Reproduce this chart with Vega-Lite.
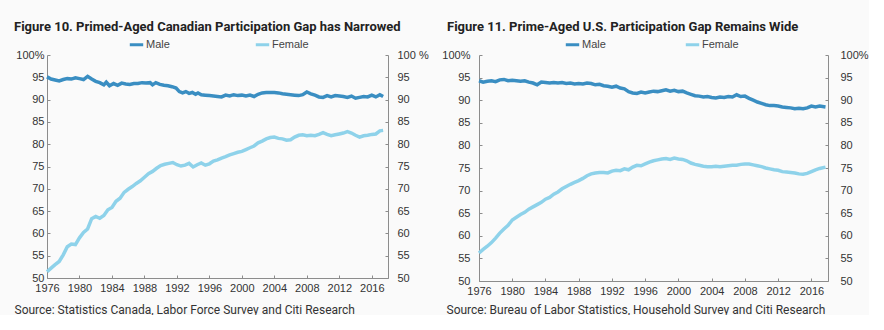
{
 "$schema": "https://vega.github.io/schema/vega-lite/v6.json",
 "background": "#fafafa",
 "padding": {"left": 14, "top": 21, "right": 0, "bottom": 0},
 "autosize": {"type": "pad"},
 "bounds": "flush",
 "spacing": 91,
 "config": {
  "view": {"stroke": null},
  "font": "Liberation Sans",
  "axis": {"grid": false, "domainColor": "#8c8c8c", "tickColor": "#8c8c8c", "labelColor": "#333333", "labelFontSize": 11, "tickSize": -3, "labelFont": "Liberation Sans", "titleFont": "Roboto", "titleFontWeight": "normal", "titleFontSize": 12, "titleColor": "#333333", "labelOverlap": false, "labelFlush": false},
  "legend": {"labelFont": "Liberation Sans", "labelFontSize": 11, "labelColor": "#444444", "padding": 0}
 },
 "datasets": {
  "canada": [
   {"t":1976.0,"s":"Male","v":95.1},{"t":1976.5,"s":"Male","v":94.6},{"t":1977.0,"s":"Male","v":94.4},{"t":1977.5,"s":"Male","v":94.2},{"t":1978.0,"s":"Male","v":94.5},{"t":1978.5,"s":"Male","v":94.7},{"t":1979.0,"s":"Male","v":94.6},{"t":1979.5,"s":"Male","v":94.9},{"t":1980.0,"s":"Male","v":94.7},{"t":1980.5,"s":"Male","v":94.5},{"t":1981.0,"s":"Male","v":95.2},{"t":1981.5,"s":"Male","v":94.6},{"t":1982.0,"s":"Male","v":94.1},{"t":1982.5,"s":"Male","v":93.8},{"t":1983.0,"s":"Male","v":93.3},{"t":1983.3,"s":"Male","v":93.9},{"t":1983.7,"s":"Male","v":93.1},{"t":1984.2,"s":"Male","v":93.6},{"t":1984.7,"s":"Male","v":93.2},{"t":1985.2,"s":"Male","v":93.7},{"t":1985.7,"s":"Male","v":93.5},{"t":1986.2,"s":"Male","v":93.4},{"t":1986.7,"s":"Male","v":93.6},{"t":1987.2,"s":"Male","v":93.6},{"t":1987.7,"s":"Male","v":93.8},{"t":1988.2,"s":"Male","v":93.7},{"t":1988.7,"s":"Male","v":93.8},{"t":1989.0,"s":"Male","v":93.3},{"t":1989.4,"s":"Male","v":93.8},{"t":1989.9,"s":"Male","v":93.4},{"t":1990.4,"s":"Male","v":93.2},{"t":1990.9,"s":"Male","v":93.1},{"t":1991.4,"s":"Male","v":92.9},{"t":1991.9,"s":"Male","v":92.6},{"t":1992.3,"s":"Male","v":91.8},{"t":1992.7,"s":"Male","v":91.5},{"t":1993.1,"s":"Male","v":91.8},{"t":1993.5,"s":"Male","v":91.4},{"t":1993.9,"s":"Male","v":91.6},{"t":1994.3,"s":"Male","v":91.2},{"t":1994.6,"s":"Male","v":91.5},{"t":1995.0,"s":"Male","v":91.1},{"t":1995.5,"s":"Male","v":91.0},{"t":1996.0,"s":"Male","v":90.9},{"t":1996.5,"s":"Male","v":90.8},{"t":1997.0,"s":"Male","v":90.7},{"t":1997.5,"s":"Male","v":90.6},{"t":1998.0,"s":"Male","v":91.0},{"t":1998.5,"s":"Male","v":90.8},{"t":1999.0,"s":"Male","v":91.1},{"t":1999.5,"s":"Male","v":90.9},{"t":2000.0,"s":"Male","v":91.0},{"t":2000.5,"s":"Male","v":90.8},{"t":2001.0,"s":"Male","v":91.0},{"t":2001.5,"s":"Male","v":90.7},{"t":2002.0,"s":"Male","v":91.2},{"t":2002.5,"s":"Male","v":91.5},{"t":2003.0,"s":"Male","v":91.6},{"t":2003.5,"s":"Male","v":91.6},{"t":2004.0,"s":"Male","v":91.6},{"t":2004.5,"s":"Male","v":91.5},{"t":2005.0,"s":"Male","v":91.3},{"t":2005.5,"s":"Male","v":91.2},{"t":2006.0,"s":"Male","v":91.1},{"t":2006.5,"s":"Male","v":91.0},{"t":2007.0,"s":"Male","v":90.9},{"t":2007.5,"s":"Male","v":91.1},{"t":2008.0,"s":"Male","v":91.7},{"t":2008.5,"s":"Male","v":91.3},{"t":2009.0,"s":"Male","v":91.0},{"t":2009.5,"s":"Male","v":90.6},{"t":2010.0,"s":"Male","v":90.5},{"t":2010.5,"s":"Male","v":90.9},{"t":2011.0,"s":"Male","v":90.6},{"t":2011.5,"s":"Male","v":90.9},{"t":2012.0,"s":"Male","v":90.8},{"t":2012.5,"s":"Male","v":90.7},{"t":2013.0,"s":"Male","v":90.5},{"t":2013.5,"s":"Male","v":90.8},{"t":2014.0,"s":"Male","v":90.3},{"t":2014.5,"s":"Male","v":90.5},{"t":2015.0,"s":"Male","v":90.7},{"t":2015.5,"s":"Male","v":90.6},{"t":2016.0,"s":"Male","v":91.0},{"t":2016.5,"s":"Male","v":90.6},{"t":2017.0,"s":"Male","v":91.1},{"t":2017.4,"s":"Male","v":90.7},
   {"t":1976.0,"s":"Female","v":51.4},{"t":1976.5,"s":"Female","v":52.2},{"t":1977.0,"s":"Female","v":53.0},{"t":1977.5,"s":"Female","v":53.7},{"t":1978.0,"s":"Female","v":55.2},{"t":1978.5,"s":"Female","v":57.0},{"t":1979.0,"s":"Female","v":57.6},{"t":1979.5,"s":"Female","v":57.5},{"t":1980.0,"s":"Female","v":59.0},{"t":1980.5,"s":"Female","v":60.2},{"t":1981.0,"s":"Female","v":61.0},{"t":1981.5,"s":"Female","v":63.3},{"t":1982.0,"s":"Female","v":63.8},{"t":1982.5,"s":"Female","v":63.4},{"t":1983.0,"s":"Female","v":64.0},{"t":1983.5,"s":"Female","v":65.3},{"t":1984.0,"s":"Female","v":65.8},{"t":1984.5,"s":"Female","v":67.2},{"t":1985.0,"s":"Female","v":67.9},{"t":1985.5,"s":"Female","v":69.2},{"t":1986.0,"s":"Female","v":69.9},{"t":1986.5,"s":"Female","v":70.5},{"t":1987.0,"s":"Female","v":71.2},{"t":1987.5,"s":"Female","v":71.8},{"t":1988.0,"s":"Female","v":72.6},{"t":1988.5,"s":"Female","v":73.4},{"t":1989.0,"s":"Female","v":73.9},{"t":1989.5,"s":"Female","v":74.6},{"t":1990.0,"s":"Female","v":75.2},{"t":1990.5,"s":"Female","v":75.5},{"t":1991.0,"s":"Female","v":75.7},{"t":1991.5,"s":"Female","v":75.9},{"t":1992.0,"s":"Female","v":75.4},{"t":1992.5,"s":"Female","v":75.1},{"t":1993.0,"s":"Female","v":75.3},{"t":1993.5,"s":"Female","v":75.7},{"t":1994.0,"s":"Female","v":74.9},{"t":1994.5,"s":"Female","v":75.4},{"t":1995.0,"s":"Female","v":75.8},{"t":1995.5,"s":"Female","v":75.3},{"t":1996.0,"s":"Female","v":75.6},{"t":1996.5,"s":"Female","v":76.2},{"t":1997.0,"s":"Female","v":76.5},{"t":1997.5,"s":"Female","v":76.9},{"t":1998.0,"s":"Female","v":77.2},{"t":1998.5,"s":"Female","v":77.6},{"t":1999.0,"s":"Female","v":77.9},{"t":1999.5,"s":"Female","v":78.2},{"t":2000.0,"s":"Female","v":78.4},{"t":2000.5,"s":"Female","v":78.8},{"t":2001.0,"s":"Female","v":79.2},{"t":2001.5,"s":"Female","v":79.6},{"t":2002.0,"s":"Female","v":80.3},{"t":2002.5,"s":"Female","v":80.7},{"t":2003.0,"s":"Female","v":81.2},{"t":2003.5,"s":"Female","v":81.5},{"t":2004.0,"s":"Female","v":81.6},{"t":2004.5,"s":"Female","v":81.3},{"t":2005.0,"s":"Female","v":81.2},{"t":2005.5,"s":"Female","v":80.9},{"t":2006.0,"s":"Female","v":81.0},{"t":2006.5,"s":"Female","v":81.6},{"t":2007.0,"s":"Female","v":82.0},{"t":2007.5,"s":"Female","v":82.1},{"t":2008.0,"s":"Female","v":81.9},{"t":2008.5,"s":"Female","v":82.0},{"t":2009.0,"s":"Female","v":81.9},{"t":2009.5,"s":"Female","v":82.2},{"t":2010.0,"s":"Female","v":82.6},{"t":2010.5,"s":"Female","v":82.2},{"t":2011.0,"s":"Female","v":81.9},{"t":2011.5,"s":"Female","v":82.1},{"t":2012.0,"s":"Female","v":82.3},{"t":2012.5,"s":"Female","v":82.5},{"t":2013.0,"s":"Female","v":82.8},{"t":2013.5,"s":"Female","v":82.5},{"t":2014.0,"s":"Female","v":82.0},{"t":2014.5,"s":"Female","v":81.6},{"t":2015.0,"s":"Female","v":81.9},{"t":2015.5,"s":"Female","v":82.0},{"t":2016.0,"s":"Female","v":82.2},{"t":2016.5,"s":"Female","v":82.3},{"t":2017.0,"s":"Female","v":83.0},{"t":2017.4,"s":"Female","v":83.1}
  ],
  "us": [
   {"t":1976.0,"s":"Male","v":94.3},{"t":1976.5,"s":"Male","v":94.0},{"t":1977.0,"s":"Male","v":94.2},{"t":1977.5,"s":"Male","v":94.3},{"t":1978.0,"s":"Male","v":94.1},{"t":1978.5,"s":"Male","v":94.5},{"t":1979.0,"s":"Male","v":94.6},{"t":1979.5,"s":"Male","v":94.3},{"t":1980.0,"s":"Male","v":94.4},{"t":1980.5,"s":"Male","v":94.3},{"t":1981.0,"s":"Male","v":94.2},{"t":1981.5,"s":"Male","v":94.3},{"t":1982.0,"s":"Male","v":94.0},{"t":1982.5,"s":"Male","v":93.8},{"t":1983.0,"s":"Male","v":93.4},{"t":1983.5,"s":"Male","v":94.0},{"t":1984.0,"s":"Male","v":93.9},{"t":1984.5,"s":"Male","v":93.8},{"t":1985.0,"s":"Male","v":93.9},{"t":1985.5,"s":"Male","v":93.8},{"t":1986.0,"s":"Male","v":93.9},{"t":1986.5,"s":"Male","v":93.7},{"t":1987.0,"s":"Male","v":93.8},{"t":1987.5,"s":"Male","v":93.6},{"t":1988.0,"s":"Male","v":93.7},{"t":1988.5,"s":"Male","v":93.6},{"t":1989.0,"s":"Male","v":93.8},{"t":1989.5,"s":"Male","v":93.7},{"t":1990.0,"s":"Male","v":93.4},{"t":1990.5,"s":"Male","v":93.5},{"t":1991.0,"s":"Male","v":93.2},{"t":1991.5,"s":"Male","v":93.1},{"t":1992.0,"s":"Male","v":92.9},{"t":1992.5,"s":"Male","v":93.1},{"t":1993.0,"s":"Male","v":92.7},{"t":1993.5,"s":"Male","v":92.5},{"t":1994.0,"s":"Male","v":91.9},{"t":1994.5,"s":"Male","v":91.6},{"t":1995.0,"s":"Male","v":91.5},{"t":1995.5,"s":"Male","v":91.8},{"t":1996.0,"s":"Male","v":91.6},{"t":1996.5,"s":"Male","v":91.8},{"t":1997.0,"s":"Male","v":92.0},{"t":1997.5,"s":"Male","v":91.9},{"t":1998.0,"s":"Male","v":92.1},{"t":1998.5,"s":"Male","v":92.3},{"t":1999.0,"s":"Male","v":92.0},{"t":1999.5,"s":"Male","v":92.2},{"t":2000.0,"s":"Male","v":91.9},{"t":2000.5,"s":"Male","v":92.0},{"t":2001.0,"s":"Male","v":91.6},{"t":2001.5,"s":"Male","v":91.3},{"t":2002.0,"s":"Male","v":91.0},{"t":2002.5,"s":"Male","v":90.9},{"t":2003.0,"s":"Male","v":90.7},{"t":2003.5,"s":"Male","v":90.8},{"t":2004.0,"s":"Male","v":90.6},{"t":2004.5,"s":"Male","v":90.5},{"t":2005.0,"s":"Male","v":90.7},{"t":2005.5,"s":"Male","v":90.6},{"t":2006.0,"s":"Male","v":90.8},{"t":2006.5,"s":"Male","v":90.7},{"t":2007.0,"s":"Male","v":91.2},{"t":2007.5,"s":"Male","v":90.8},{"t":2008.0,"s":"Male","v":90.9},{"t":2008.5,"s":"Male","v":90.4},{"t":2009.0,"s":"Male","v":90.0},{"t":2009.5,"s":"Male","v":89.6},{"t":2010.0,"s":"Male","v":89.3},{"t":2010.5,"s":"Male","v":89.0},{"t":2011.0,"s":"Male","v":88.8},{"t":2011.5,"s":"Male","v":88.8},{"t":2012.0,"s":"Male","v":88.7},{"t":2012.5,"s":"Male","v":88.5},{"t":2013.0,"s":"Male","v":88.4},{"t":2013.5,"s":"Male","v":88.3},{"t":2014.0,"s":"Male","v":88.1},{"t":2014.5,"s":"Male","v":88.2},{"t":2015.0,"s":"Male","v":88.1},{"t":2015.5,"s":"Male","v":88.3},{"t":2016.0,"s":"Male","v":88.7},{"t":2016.5,"s":"Male","v":88.5},{"t":2017.0,"s":"Male","v":88.7},{"t":2017.7,"s":"Male","v":88.5},
   {"t":1976.0,"s":"Female","v":56.2},{"t":1976.5,"s":"Female","v":57.0},{"t":1977.0,"s":"Female","v":57.7},{"t":1977.5,"s":"Female","v":58.5},{"t":1978.0,"s":"Female","v":59.5},{"t":1978.5,"s":"Female","v":60.6},{"t":1979.0,"s":"Female","v":61.5},{"t":1979.5,"s":"Female","v":62.3},{"t":1980.0,"s":"Female","v":63.5},{"t":1980.5,"s":"Female","v":64.1},{"t":1981.0,"s":"Female","v":64.7},{"t":1981.5,"s":"Female","v":65.2},{"t":1982.0,"s":"Female","v":65.9},{"t":1982.5,"s":"Female","v":66.4},{"t":1983.0,"s":"Female","v":66.9},{"t":1983.5,"s":"Female","v":67.4},{"t":1984.0,"s":"Female","v":68.1},{"t":1984.5,"s":"Female","v":68.5},{"t":1985.0,"s":"Female","v":69.2},{"t":1985.5,"s":"Female","v":69.7},{"t":1986.0,"s":"Female","v":70.4},{"t":1986.5,"s":"Female","v":70.9},{"t":1987.0,"s":"Female","v":71.4},{"t":1987.5,"s":"Female","v":71.8},{"t":1988.0,"s":"Female","v":72.2},{"t":1988.5,"s":"Female","v":72.7},{"t":1989.0,"s":"Female","v":73.3},{"t":1989.5,"s":"Female","v":73.7},{"t":1990.0,"s":"Female","v":73.9},{"t":1990.5,"s":"Female","v":74.0},{"t":1991.0,"s":"Female","v":74.0},{"t":1991.5,"s":"Female","v":73.9},{"t":1992.0,"s":"Female","v":74.3},{"t":1992.5,"s":"Female","v":74.5},{"t":1993.0,"s":"Female","v":74.4},{"t":1993.5,"s":"Female","v":74.8},{"t":1994.0,"s":"Female","v":74.6},{"t":1994.5,"s":"Female","v":75.2},{"t":1995.0,"s":"Female","v":75.6},{"t":1995.5,"s":"Female","v":75.5},{"t":1996.0,"s":"Female","v":75.9},{"t":1996.5,"s":"Female","v":76.3},{"t":1997.0,"s":"Female","v":76.6},{"t":1997.5,"s":"Female","v":76.8},{"t":1998.0,"s":"Female","v":77.0},{"t":1998.5,"s":"Female","v":77.1},{"t":1999.0,"s":"Female","v":76.9},{"t":1999.5,"s":"Female","v":77.2},{"t":2000.0,"s":"Female","v":77.0},{"t":2000.5,"s":"Female","v":76.9},{"t":2001.0,"s":"Female","v":76.6},{"t":2001.5,"s":"Female","v":76.1},{"t":2002.0,"s":"Female","v":75.8},{"t":2002.5,"s":"Female","v":75.6},{"t":2003.0,"s":"Female","v":75.4},{"t":2003.5,"s":"Female","v":75.3},{"t":2004.0,"s":"Female","v":75.3},{"t":2004.5,"s":"Female","v":75.4},{"t":2005.0,"s":"Female","v":75.3},{"t":2005.5,"s":"Female","v":75.4},{"t":2006.0,"s":"Female","v":75.5},{"t":2006.5,"s":"Female","v":75.6},{"t":2007.0,"s":"Female","v":75.6},{"t":2007.5,"s":"Female","v":75.8},{"t":2008.0,"s":"Female","v":75.9},{"t":2008.5,"s":"Female","v":75.9},{"t":2009.0,"s":"Female","v":75.7},{"t":2009.5,"s":"Female","v":75.5},{"t":2010.0,"s":"Female","v":75.3},{"t":2010.5,"s":"Female","v":75.0},{"t":2011.0,"s":"Female","v":74.8},{"t":2011.5,"s":"Female","v":74.6},{"t":2012.0,"s":"Female","v":74.5},{"t":2012.5,"s":"Female","v":74.2},{"t":2013.0,"s":"Female","v":74.1},{"t":2013.5,"s":"Female","v":74.0},{"t":2014.0,"s":"Female","v":73.9},{"t":2014.5,"s":"Female","v":73.7},{"t":2015.0,"s":"Female","v":73.6},{"t":2015.5,"s":"Female","v":73.8},{"t":2016.0,"s":"Female","v":74.2},{"t":2016.5,"s":"Female","v":74.6},{"t":2017.0,"s":"Female","v":74.9},{"t":2017.7,"s":"Female","v":75.2}
  ]
 },
 "resolve": {"scale": {"color": "independent"}, "legend": {"color": "independent"}},
 "hconcat": [
  {
   "width": 341, "height": 223,
   "title": {"text": "Figure 10. Primed-Aged Canadian Participation Gap has Narrowed", "anchor": "start", "frame": "group", "dx": -33, "offset": 2, "font": "Roboto", "fontSize": 13, "fontWeight": "bold", "color": "#222222"},
   "data": {"name": "canada"},
   "encoding": {
    "x": {"field": "t", "type": "quantitative", "scale": {"domain": [1976, 2018], "nice": false, "zero": false},
          "axis": {"values": [1976,1980,1984,1988,1992,1996,2000,2004,2008,2012,2016], "format": "d", "labelPadding": 7,
                   "title": "Source: Statistics Canada, Labor Force Survey and Citi Research", "titleAnchor": "start", "titleAlign": "left", "titleBaseline": "alphabetic", "titleX": -33, "titleY": 35}}
   },
   "layer": [
    {"mark": {"type": "line", "strokeWidth": 3.5},
     "encoding": {
      "y": {"field": "v", "type": "quantitative", "scale": {"domain": [50, 100], "nice": false, "zero": false},
            "axis": {"orient": "left", "title": null, "values": [50,55,60,65,70,75,80,85,90,95,100], "labelPadding": 6, "labelExpr": "datum.value == 100 ? '100%' : datum.label"}},
      "color": {"field": "s", "type": "nominal", "scale": {"domain": ["Male", "Female"], "range": ["#3a8ec2", "#8ed2ea"]},
                "legend": {"title": null, "orient": "none", "direction": "horizontal", "legendX": 81, "legendY": -19, "symbolType": "stroke", "symbolStrokeWidth": 3, "symbolSize": 180, "columnPadding": 79, "labelOffset": 1}}
     }},
    {"mark": {"type": "line", "strokeOpacity": 0},
     "encoding": {
      "detail": {"field": "s"},
      "y": {"field": "v", "type": "quantitative", "scale": {"domain": [50, 100], "nice": false, "zero": false},
            "axis": {"orient": "right", "title": null, "values": [50,55,60,65,70,75,80,85,90,95,100], "labelPadding": 12, "labelExpr": "datum.value == 100 ? '100 %' : datum.label"}}
     }}
   ],
   "resolve": {"axis": {"y": "independent"}}
  },
  {
   "width": 349, "height": 226,
   "title": {"text": "Figure 11. Prime-Aged U.S. Participation Gap Remains Wide", "anchor": "start", "frame": "group", "dx": -32, "offset": 2, "font": "Roboto", "fontSize": 13, "fontWeight": "bold", "color": "#222222"},
   "data": {"name": "us"},
   "encoding": {
    "x": {"field": "t", "type": "quantitative", "scale": {"domain": [1976, 2018], "nice": false, "zero": false},
          "axis": {"values": [1976,1980,1984,1988,1992,1996,2000,2004,2008,2012,2016], "format": "d", "labelPadding": 7,
                   "title": "Source: Bureau of Labor Statistics, Household Survey and Citi Research", "titleAnchor": "start", "titleAlign": "left", "titleBaseline": "alphabetic", "titleX": -33, "titleY": 32}}
   },
   "layer": [
    {"mark": {"type": "line", "strokeWidth": 3.5},
     "encoding": {
      "y": {"field": "v", "type": "quantitative", "scale": {"domain": [50, 100], "nice": false, "zero": false},
            "axis": {"orient": "left", "title": null, "values": [50,55,60,65,70,75,80,85,90,95,100], "labelPadding": 12, "labelExpr": "datum.value == 100 ? '100%' : datum.label"}},
      "color": {"field": "s", "type": "nominal", "scale": {"domain": ["Male", "Female"], "range": ["#3a8ec2", "#8ed2ea"]},
                "legend": {"title": null, "orient": "none", "direction": "horizontal", "legendX": 85, "legendY": -19, "symbolType": "stroke", "symbolStrokeWidth": 3, "symbolSize": 180, "columnPadding": 73, "labelOffset": 1}}
     }},
    {"mark": {"type": "line", "strokeOpacity": 0},
     "encoding": {
      "detail": {"field": "s"},
      "y": {"field": "v", "type": "quantitative", "scale": {"domain": [50, 100], "nice": false, "zero": false},
            "axis": {"orient": "right", "title": null, "values": [50,55,60,65,70,75,80,85,90,95,100], "labelPadding": 15, "labelExpr": "datum.value == 100 ? '100%' : datum.label"}}
     }}
   ],
   "resolve": {"axis": {"y": "independent"}}
  }
 ]
}
